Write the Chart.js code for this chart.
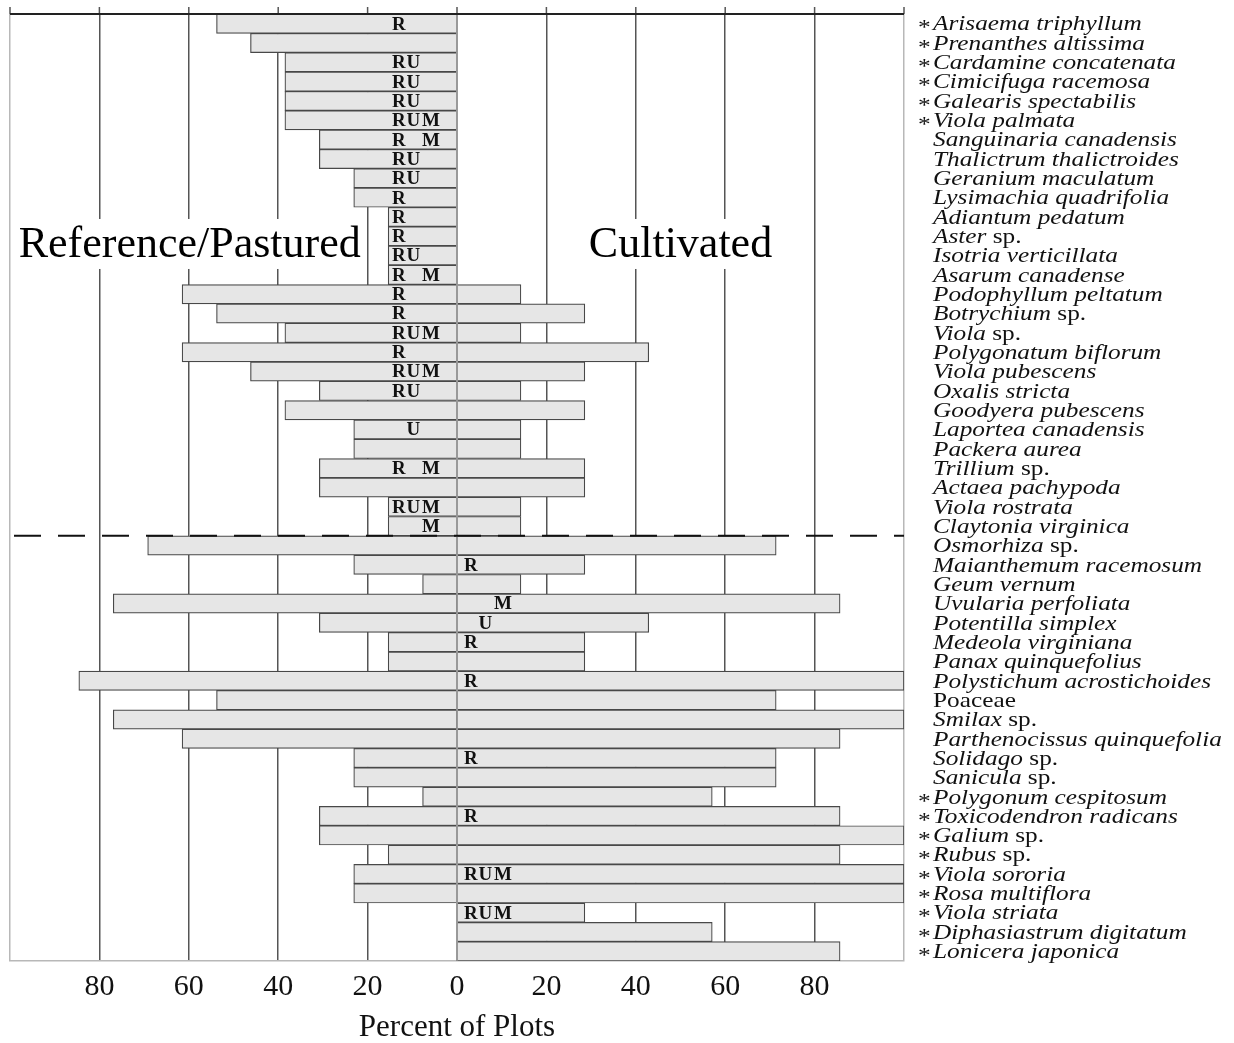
<!DOCTYPE html>
<html>
<head>
<meta charset="utf-8">
<script src="https://cdn.jsdelivr.net/npm/chart.js@4/dist/chart.umd.min.js"></script>
<style>
  html, body { margin: 0; padding: 0; background: #fff; }
  #wrap { width: 1234px; height: 1043px; }
</style>
</head>
<body>
<div id="wrap"><canvas id="chart" width="1234" height="1043"></canvas></div>
<script>
// Species, top to bottom
const species = [
  'Arisaema triphyllum', 'Prenanthes altissima', 'Cardamine concatenata', 'Cimicifuga racemosa',
  'Galearis spectabilis', 'Viola palmata', 'Sanguinaria canadensis', 'Thalictrum thalictroides',
  'Geranium maculatum', 'Lysimachia quadrifolia', 'Adiantum pedatum', 'Aster sp.',
  'Isotria verticillata', 'Asarum canadense', 'Podophyllum peltatum', 'Botrychium sp.',
  'Viola sp.', 'Polygonatum biflorum', 'Viola pubescens', 'Oxalis stricta',
  'Goodyera pubescens', 'Laportea canadensis', 'Packera aurea', 'Trillium sp.',
  'Actaea pachypoda', 'Viola rostrata', 'Claytonia virginica',
  'Osmorhiza sp.', 'Maianthemum racemosum', 'Geum vernum', 'Uvularia perfoliata',
  'Potentilla simplex', 'Medeola virginiana', 'Panax quinquefolius', 'Polystichum acrostichoides',
  'Poaceae', 'Smilax sp.', 'Parthenocissus quinquefolia', 'Solidago sp.',
  'Sanicula sp.', 'Polygonum cespitosum', 'Toxicodendron radicans', 'Galium sp.',
  'Rubus sp.', 'Viola sororia', 'Rosa multiflora', 'Viola striata',
  'Diphasiastrum digitatum', 'Lonicera japonica'
];

// Indicator species (marked with an asterisk)
const indicator = [
  true, true, true, true, true, true, false, false, false, false, false, false, false, false,
  false, false, false, false, false, false, false, false, false, false, false, false, false,
  false, false, false, false, false, false, false, false, false, false, false, false, false,
  true, true, true, true, true, true, true, true, true
];

// Percent of reference/pastured plots where the species occurs
const referencePct = [
  53.8, 46.2, 38.5, 38.5, 38.5, 38.5, 30.8, 30.8, 23.1, 23.1, 15.4, 15.4, 15.4, 15.4,
  61.5, 53.8, 38.5, 61.5, 46.2, 30.8, 38.5, 23.1, 23.1, 30.8, 30.8, 15.4, 15.4,
  69.2, 23.1, 7.7, 76.9, 30.8, 15.4, 15.4, 84.6, 53.8, 76.9, 61.5, 23.1, 23.1, 7.7,
  30.8, 30.8, 15.4, 23.1, 23.1, 0, 0, 0
];

// Percent of cultivated plots where the species occurs
const cultivatedPct = [
  0, 0, 0, 0, 0, 0, 0, 0, 0, 0, 0, 0, 0, 0,
  14.3, 28.6, 14.3, 42.9, 28.6, 14.3, 28.6, 14.3, 14.3, 28.6, 28.6, 14.3, 14.3,
  71.4, 28.6, 14.3, 85.7, 42.9, 28.6, 28.6, 100, 71.4, 100, 85.7, 71.4, 71.4, 57.1,
  85.7, 100, 85.7, 100, 100, 28.6, 57.1, 85.7
];

// Site-type letters (R, U, M) shown on each bar
const siteLetters = [
  'R', '', 'RU', 'RU', 'RU', 'RUM', 'RM', 'RU', 'RU', 'R', 'R', 'R', 'RU', 'RM',
  'R', 'R', 'RUM', 'R', 'RUM', 'RU', '', 'U', '', 'RM', '', 'RUM', 'M',
  '', 'R', '', 'M', 'U', 'R', '', 'R', '', '', '', 'R', '', '',
  'R', '', '', 'RUM', '', 'RUM', '', ''
];

const splitAfter = 'Claytonia virginica';
const uprightNames = ['Poaceae'];
const sideTitles = ['Reference/Pastured', 'Cultivated'];
const axisTitle = 'Percent of Plots';

const SERIF = '"Liberation Serif", "Times New Roman", serif';
const LABEL_STRETCH = 1.15;

const overlay = {
  id: 'overlay',
  beforeDatasetsDraw(chart) {
    const { ctx, chartArea: a, scales: { x, y } } = chart;
    ctx.save();
    // short marks above the top frame at every tick
    ctx.strokeStyle = '#555';
    ctx.lineWidth = 1.5;
    x.ticks.forEach(t => {
      const px = x.getPixelForValue(t.value);
      ctx.beginPath();
      ctx.moveTo(px, a.top - 7);
      ctx.lineTo(px, a.top);
      ctx.stroke();
    });
    // side titles on a white ground
    ctx.font = '44px ' + SERIF;
    ctx.textBaseline = 'middle';
    ctx.textAlign = 'center';
    const ty = y.getPixelForValue(11.4);
    [[sideTitles[0], x.getPixelForValue(-59.8)], [sideTitles[1], x.getPixelForValue(50)]].forEach(([txt, cx]) => {
      const w = ctx.measureText(txt).width;
      ctx.fillStyle = '#fff';
      ctx.fillRect(cx - w / 2 - 4, ty - 25, w + 8, 50);
      ctx.fillStyle = '#000';
      ctx.fillText(txt, cx, ty + 1);
    });
    ctx.restore();
  },
  afterDatasetsDraw(chart) {
    const { ctx, chartArea: a, scales: { x, y } } = chart;
    ctx.save();
    // zero line over the bars
    const x0 = x.getPixelForValue(0);
    ctx.strokeStyle = 'rgba(120,120,120,0.75)';
    ctx.lineWidth = 2;
    ctx.beginPath();
    ctx.moveTo(x0, a.top);
    ctx.lineTo(x0, a.bottom);
    ctx.stroke();
    // top frame
    ctx.strokeStyle = '#222';
    ctx.lineWidth = 2;
    ctx.beginPath();
    ctx.moveTo(a.left, a.top);
    ctx.lineTo(a.right, a.top);
    ctx.stroke();
    // dashed separator
    const k = species.indexOf(splitAfter);
    const yd = (y.getPixelForValue(k) + y.getPixelForValue(k + 1)) / 2;
    ctx.setLineDash([27, 17]);
    ctx.strokeStyle = '#111';
    ctx.lineWidth = 2;
    ctx.beginPath();
    ctx.moveTo(a.left + 4, yd);
    ctx.lineTo(a.right, yd);
    ctx.stroke();
    ctx.setLineDash([]);
    // site letters in fixed columns
    ctx.font = 'bold 19px ' + SERIF;
    ctx.fillStyle = '#111';
    ctx.textBaseline = 'middle';
    ctx.textAlign = 'left';
    const cols = { R: 0, U: 14.5, M: 30 };
    siteLetters.forEach((s, i) => {
      if (!s) return;
      const start = i <= k ? x0 - 65 : x0 + 7;
      const py = y.getPixelForValue(i) + 1;
      for (const ch of s) ctx.fillText(ch, start + cols[ch], py);
    });
    ctx.restore();
  },
  afterDraw(chart) {
    const { ctx, chartArea: a, scales: { y } } = chart;
    ctx.save();
    ctx.textBaseline = 'middle';
    ctx.textAlign = 'left';
    ctx.fillStyle = '#111';
    const lx = a.right + 29;
    const put = (txt, font, px, py) => {
      ctx.font = font;
      ctx.save();
      ctx.translate(px, py);
      ctx.scale(LABEL_STRETCH, 1);
      ctx.fillText(txt, 0, 0);
      ctx.restore();
      return ctx.measureText(txt).width * LABEL_STRETCH;
    };
    species.forEach((name, i) => {
      const py = y.getPixelForValue(i) + 1;
      let ital = name, upright = '';
      if (uprightNames.includes(name)) { ital = ''; upright = name; }
      else if (name.endsWith(' sp.')) { ital = name.slice(0, -4); upright = ' sp.'; }
      let cx = lx;
      if (ital) cx += put(ital, 'italic 22px ' + SERIF, cx, py);
      if (upright) put(upright, '22px ' + SERIF, cx, py);
      if (indicator[i]) put('*', '22px ' + SERIF, lx - 15, py + 4);
    });
    ctx.restore();
  }
};

new Chart(document.getElementById('chart'), {
  type: 'bar',
  data: {
    labels: species,
    datasets: [
      {
        label: 'Reference/Pastured',
        data: referencePct.map(v => -v),
        backgroundColor: '#e6e6e6',
        borderColor: '#484848',
        borderWidth: 1.2,
        grouped: false,
        categoryPercentage: 1,
        barPercentage: 1
      },
      {
        label: 'Cultivated',
        data: cultivatedPct,
        backgroundColor: '#e6e6e6',
        borderColor: '#484848',
        borderWidth: 1.2,
        grouped: false,
        categoryPercentage: 1,
        barPercentage: 1
      }
    ]
  },
  options: {
    indexAxis: 'y',
    responsive: false,
    animation: false,
    devicePixelRatio: 1,
    layout: { padding: { left: 8, right: 330, top: 14, bottom: 0 } },
    plugins: { legend: { display: false }, tooltip: { enabled: false } },
    scales: {
      x: {
        min: -100,
        max: 100,
        afterFit(scale) { scale.height = 82; },
        ticks: {
          stepSize: 20,
          autoSkip: false,
          maxRotation: 0,
          padding: 10,
          color: '#111',
          font: { family: SERIF, size: 30, lineHeight: 1.1 },
          callback: v => (Math.abs(v) === 100 ? '' : String(Math.abs(v)))
        },
        grid: {
          drawTicks: false,
          lineWidth: 1.5,
          color: c => {
            const v = c.tick ? c.tick.value : null;
            if (v === 0) return 'rgba(0,0,0,0)';
            if (v === 100 || v === -100) return '#b8b8b8';
            return '#555';
          }
        },
        border: { display: true, color: '#b8b8b8', width: 1.5 },
        title: {
          display: true,
          text: axisTitle,
          color: '#111',
          font: { family: SERIF, size: 31, lineHeight: 1.0 },
          padding: { top: 4, bottom: 0 }
        }
      },
      y: {
        display: false
      }
    }
  },
  plugins: [overlay]
});
</script>
</body>
</html>
